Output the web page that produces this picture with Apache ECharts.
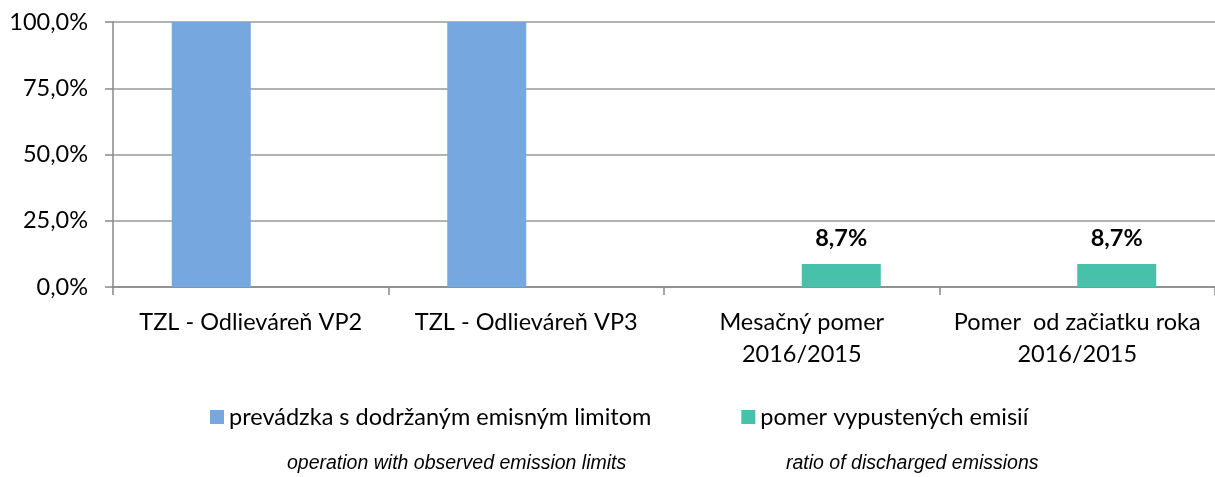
<!DOCTYPE html>
<html>
<head>
<meta charset="utf-8">
<script src="https://cdn.jsdelivr.net/npm/echarts@6/dist/echarts.min.js"></script>
<style>html,body{margin:0;padding:0;background:#fff;}#c{width:1215px;height:477px;}</style>
</head>
<body>
<div id="c"></div>
<script>
const categories = ['TZL - Odlieváreň VP2', 'TZL - Odlieváreň VP3', 'Mesačný pomer\n2016/2015', 'Pomer  od začiatku roka\n2016/2015'];
const seriesNames = ['prevádzka s dodržaným emisným limitom', 'pomer vypustených emisií'];
const operationValues = [100, 100, null, null];
const ratioValues = [null, null, 8.7, 8.7];
const englishNotes = ['operation with observed emission limits', 'ratio of discharged emissions'];
const yTicks = { min: 0, max: 100, interval: 25 };

const fmt = v => v.toFixed(1).replace('.', ',') + '%';
const FONT = 'Lato';
const FS = 23.5;

const chart = echarts.init(document.getElementById('c'), null, { renderer: 'canvas' });
chart.setOption({
  animation: false,
  backgroundColor: '#ffffff',
  grid: { left: 113, right: 0, top: 22, bottom: 190, containLabel: false },
  legend: {
    left: 205, top: 400,
    itemWidth: 14, itemHeight: 14, itemGap: 90,
    icon: 'rect',
    textStyle: { fontFamily: FONT, fontSize: FS, color: '#000' },
    data: seriesNames
  },
  xAxis: {
    type: 'category',
    data: categories,
    axisLine: { lineStyle: { color: '#888888', width: 1.5 } },
    axisTick: { show: true, length: 8, alignWithLabel: false, lineStyle: { color: '#888888', width: 1.5 } },
    axisLabel: { fontFamily: FONT, fontSize: FS, color: '#000', margin: 19, lineHeight: 32, interval: 0 }
  },
  yAxis: {
    type: 'value',
    min: yTicks.min, max: yTicks.max, interval: yTicks.interval,
    axisLine: { show: true, lineStyle: { color: '#888888', width: 1.5 } },
    axisTick: { show: true, length: 8, lineStyle: { color: '#888888', width: 1.5 } },
    splitLine: { lineStyle: { color: '#999999', width: 1.5 } },
    axisLabel: { fontFamily: FONT, fontSize: FS, color: '#000', margin: 25, formatter: v => fmt(v) }
  },
  series: [
    {
      name: seriesNames[0], type: 'bar', data: operationValues,
      barWidth: 79, barGap: '0%',
      itemStyle: { color: '#77A7DF' }
    },
    {
      name: seriesNames[1], type: 'bar', data: ratioValues,
      barWidth: 79, barGap: '0%',
      itemStyle: { color: '#48C1AA' },
      label: {
        show: true, position: 'top', distance: 10,
        fontFamily: FONT, fontSize: FS, fontWeight: 'bold', color: '#000',
        backgroundColor: '#ffffff', padding: [5, 8, 5, 8], lineHeight: 22,
        formatter: p => fmt(p.value)
      }
    }
  ],
  graphic: [
    { type: 'text', left: 287, top: 454, style: { text: englishNotes[0], font: 'italic 19.5px "Liberation Sans Narrow", "Liberation Sans", sans-serif', fill: '#000' } },
    { type: 'text', left: 786, top: 454, style: { text: englishNotes[1], font: 'italic 19.5px "Liberation Sans Narrow", "Liberation Sans", sans-serif', fill: '#000' } }
  ]
});
</script>
</body>
</html>
